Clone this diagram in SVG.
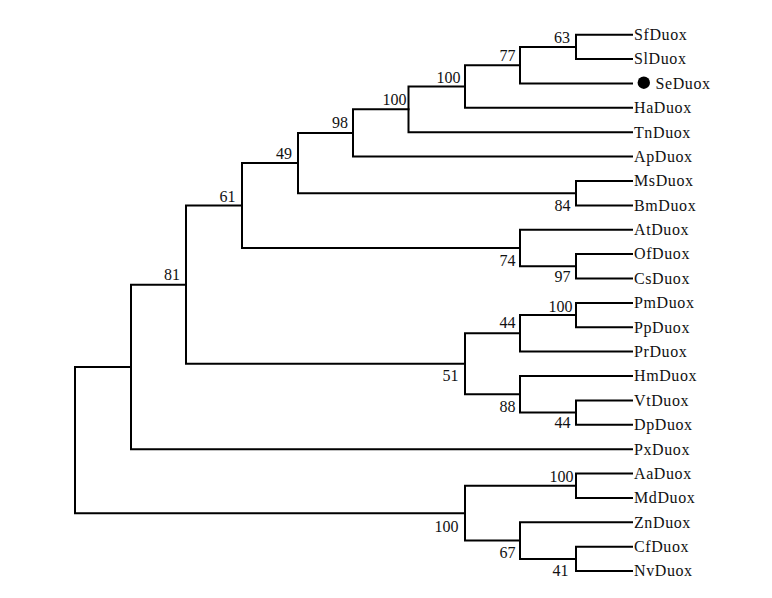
<svg xmlns="http://www.w3.org/2000/svg" width="772" height="598" viewBox="0 0 772 598">
<style>
.br{fill:none;stroke:#000;stroke-width:2;stroke-linecap:square;stroke-linejoin:miter}
.lf{font-family:"Liberation Serif","Times New Roman",serif;font-size:16px;letter-spacing:0.6px;fill:#111}
.bs{font-family:"Liberation Serif","Times New Roman",serif;font-size:16px;fill:#111;text-anchor:end}
</style>
<rect width="772" height="598" fill="#fff"/>
<g id="connectors">
<path class="br" d="M632 34.7 H576 V59.1 H632"/>
<path class="br" d="M576 46.9 H520 V83.5 H632"/>
<path class="br" d="M520 65.2 H465 V107.8 H632"/>
<path class="br" d="M465 86.5 H408.5 V132.2 H632"/>
<path class="br" d="M408.5 109.35 H353 V156.6 H632"/>
<path class="br" d="M632 181 H576 V205.4 H632"/>
<path class="br" d="M353 133 H298 V193.2 H576"/>
<path class="br" d="M632 254.1 H576 V278.5 H632"/>
<path class="br" d="M632 229.7 H520 V266.3 H576"/>
<path class="br" d="M298 163.1 H242 V248 H520"/>
<path class="br" d="M632 302.9 H576 V327.3 H632"/>
<path class="br" d="M576 315.1 H520 V351.6 H632"/>
<path class="br" d="M632 400.4 H576 V424.8 H632"/>
<path class="br" d="M632 376 H520 V412.6 H576"/>
<path class="br" d="M520 333.35 H465 V394.3 H520"/>
<path class="br" d="M242 205.55 H186 V363.8 H465"/>
<path class="br" d="M186 284.7 H131 V449.2 H632"/>
<path class="br" d="M632 473.5 H576 V497.9 H632"/>
<path class="br" d="M632 546.7 H576 V571.1 H632"/>
<path class="br" d="M632 522.3 H520 V558.9 H576"/>
<path class="br" d="M576 485.7 H465 V540.6 H520"/>
<path class="br" d="M131 366.95 H75 V513.15 H465"/>
</g>
<g id="leaves">
<g id="SfDuox"><text class="lf" x="634" y="40">SfDuox</text></g>
<g id="SlDuox"><text class="lf" x="634" y="64.4">SlDuox</text></g>
<g id="SeDuox"><circle cx="643.8" cy="82.7" r="6.2" fill="#000"/><text class="lf" x="655.5" y="88.8">SeDuox</text></g>
<g id="HaDuox"><text class="lf" x="634" y="113.1">HaDuox</text></g>
<g id="TnDuox"><text class="lf" x="634" y="137.5">TnDuox</text></g>
<g id="ApDuox"><text class="lf" x="634" y="161.9">ApDuox</text></g>
<g id="MsDuox"><text class="lf" x="634" y="186.3">MsDuox</text></g>
<g id="BmDuox"><text class="lf" x="634" y="210.7">BmDuox</text></g>
<g id="AtDuox"><text class="lf" x="634" y="235">AtDuox</text></g>
<g id="OfDuox"><text class="lf" x="634" y="259.4">OfDuox</text></g>
<g id="CsDuox"><text class="lf" x="634" y="283.8">CsDuox</text></g>
<g id="PmDuox"><text class="lf" x="634" y="308.2">PmDuox</text></g>
<g id="PpDuox"><text class="lf" x="634" y="332.6">PpDuox</text></g>
<g id="PrDuox"><text class="lf" x="634" y="356.9">PrDuox</text></g>
<g id="HmDuox"><text class="lf" x="634" y="381.3">HmDuox</text></g>
<g id="VtDuox"><text class="lf" x="634" y="405.7">VtDuox</text></g>
<g id="DpDuox"><text class="lf" x="634" y="430.1">DpDuox</text></g>
<g id="PxDuox"><text class="lf" x="634" y="454.5">PxDuox</text></g>
<g id="AaDuox"><text class="lf" x="634" y="478.8">AaDuox</text></g>
<g id="MdDuox"><text class="lf" x="634" y="503.2">MdDuox</text></g>
<g id="ZnDuox"><text class="lf" x="634" y="527.6">ZnDuox</text></g>
<g id="CfDuox"><text class="lf" x="634" y="552">CfDuox</text></g>
<g id="NvDuox"><text class="lf" x="634" y="576.4">NvDuox</text></g>
</g>
<g id="internal-nodes">
<g id="n63"><text class="bs" x="570" y="42.7">63</text></g>
<g id="n77"><text class="bs" x="515.5" y="61">77</text></g>
<g id="n100a"><text class="bs" x="460.5" y="82.7">100</text></g>
<g id="n100b"><text class="bs" x="406.5" y="105">100</text></g>
<g id="n98"><text class="bs" x="348" y="128.3">98</text></g>
<g id="n49"><text class="bs" x="292" y="159">49</text></g>
<g id="n61"><text class="bs" x="235.5" y="201.5">61</text></g>
<g id="n81"><text class="bs" x="180" y="280">81</text></g>
<g id="n84"><text class="bs" x="570.5" y="210.7">84</text></g>
<g id="n74"><text class="bs" x="515.5" y="266">74</text></g>
<g id="n97"><text class="bs" x="570.5" y="281.7">97</text></g>
<g id="n100c"><text class="bs" x="572.5" y="311.7">100</text></g>
<g id="n44a"><text class="bs" x="515.5" y="328">44</text></g>
<g id="n51"><text class="bs" x="458.5" y="380.7">51</text></g>
<g id="n88"><text class="bs" x="515.5" y="411.7">88</text></g>
<g id="n44b"><text class="bs" x="570.5" y="428.3">44</text></g>
<g id="n100d"><text class="bs" x="573.5" y="481.7">100</text></g>
<g id="n100e"><text class="bs" x="458.5" y="531.7">100</text></g>
<g id="n67"><text class="bs" x="515.5" y="558">67</text></g>
<g id="n41"><text class="bs" x="568.5" y="576">41</text></g>
</g>
</svg>
